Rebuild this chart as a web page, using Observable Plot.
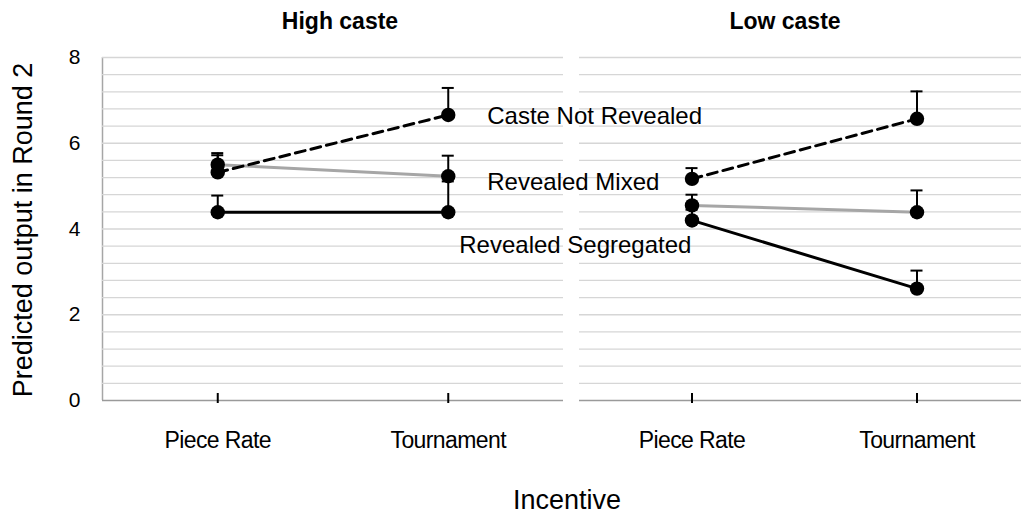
<!DOCTYPE html>
<html><head><meta charset="utf-8">
<script src="https://cdn.jsdelivr.net/npm/d3@7"></script>
<script src="https://cdn.jsdelivr.net/npm/@observablehq/plot@0.6"></script>
<style>
html,body{margin:0;padding:0;background:#fff;}
#wrap{position:relative;width:1021px;height:519px;overflow:hidden;font-family:"Liberation Sans",Arial,sans-serif;color:#000;background:#fff;}
.abs{position:absolute;white-space:nowrap;line-height:1;}
#left{left:0;top:0;width:563px;z-index:2;}
#right{left:579px;top:0;width:450px;z-index:1;}
.title{font-weight:bold;font-size:23px;transform:translate(-50%,-50%);}
#ytitle{left:23px;top:230px;font-size:27px;transform:translate(-50%,-50%) rotate(-90deg);}
#xtitle{left:567px;top:500px;font-size:27px;transform:translate(-50%,-50%);}
#wrap svg{max-width:none !important;}
</style>
</head><body>
<div id="wrap">
  <div id="right" class="abs"></div>
  <div id="left" class="abs"></div>
  <div class="abs title" style="left:340px;top:21px;">High caste</div>
  <div class="abs title" style="left:785px;top:21px;">Low caste</div>
  <div id="ytitle" class="abs">Predicted output in Round 2</div>
  <div id="xtitle" class="abs">Incentive</div>
</div>
<script>
// ---- data ----
const categories = ["Piece Rate", "Tournament"];
const panels = ["High caste", "Low caste"];
const seriesNames = ["Caste Not Revealed", "Revealed Mixed", "Revealed Segregated"];

const highNotRevealed = [5.32, 6.66];
const highNotRevealedUpper = [5.77, 7.29];
const highMixed = [5.50, 5.23];
const highMixedUpper = [5.72, 5.71];
const highSegregated = [4.39, 4.39];
const highSegregatedUpper = [4.78, 5.11];

const lowNotRevealed = [5.17, 6.57];
const lowNotRevealedUpper = [5.42, 7.21];
const lowMixed = [4.55, 4.39];
const lowMixedUpper = [4.80, 4.90];
const lowSegregated = [4.20, 2.61];
const lowSegregatedUpper = [4.45, 3.03];

const yTicks = [0, 2, 4, 6, 8];
const gridStep = 0.4;

// ---- build table ----
const values = {
  "High caste": [[highNotRevealed, highNotRevealedUpper], [highMixed, highMixedUpper], [highSegregated, highSegregatedUpper]],
  "Low caste": [[lowNotRevealed, lowNotRevealedUpper], [lowMixed, lowMixedUpper], [lowSegregated, lowSegregatedUpper]]
};
const rows = [];
panels.forEach(p => seriesNames.forEach((s, si) => categories.forEach((c, ci) => {
  rows.push({panel: p, series: s, xi: ci, value: values[p][si][0][ci], upper: values[p][si][1][ci]});
})));
const gridLines = d3.range(gridStep, 8 + 1e-9, gridStep);

const seriesStyle = {
  "Caste Not Revealed": {stroke: "#000", strokeDasharray: "10,6"},
  "Revealed Mixed": {stroke: "#a6a6a6"},
  "Revealed Segregated": {stroke: "#000"}
};

function panelMarks(panel) {
  const data = rows.filter(d => d.panel === panel);
  const marks = [
    Plot.ruleY(gridLines, {stroke: "#d6d6d6", strokeWidth: 1.3}),
    Plot.ruleY([0], {stroke: "#9a9a9a", strokeWidth: 1.6}),
    Plot.ruleX([0, 1], {y1: 0, y2: 0, insetTop: -7, insetBottom: -3, stroke: "#000", strokeWidth: 2}),
    Plot.ruleX(data, {x: "xi", y1: "value", y2: "upper", stroke: "#000", strokeWidth: 2}),
    Plot.ruleY(data, {y: "upper", x1: "xi", x2: "xi", insetLeft: -6, insetRight: -6, stroke: "#000", strokeWidth: 2})
  ];
  ["Revealed Mixed", "Revealed Segregated", "Caste Not Revealed"].forEach(s => {
    marks.push(Plot.line(data.filter(d => d.series === s), {x: "xi", y: "value", strokeWidth: 3, ...seriesStyle[s]}));
  });
  marks.push(Plot.dot(data, {x: "xi", y: "value", r: 7.2, fill: "#000"}));
  return marks;
}

const baseStyle = {fontFamily: "Liberation Sans, Arial, sans-serif", fontSize: "21px", background: "transparent", overflow: "visible", color: "#000", maxWidth: "none"};

const leftPlot = Plot.plot({
  width: 563, height: 460,
  marginLeft: 102, marginRight: 0, marginTop: 57, marginBottom: 60,
  style: baseStyle,
  x: {domain: [-0.5, 1.5], ticks: [0, 1], tickFormat: i => categories[i], tickSize: 0, tickPadding: 31, label: null},
  y: {domain: [0, 8], ticks: yTicks, tickSize: 0, tickPadding: 22, label: null},
  marks: [
    Plot.ruleX([-0.5], {y1: 0, y2: 8, stroke: "#a6a6a6", strokeWidth: 1.5}),
    ...panelMarks("High caste"),
    Plot.text([seriesNames[0]], {x: 1, y: 6.62, text: d => d, textAnchor: "start", dx: 39, fontSize: 24, fill: "#000"}),
    Plot.text([seriesNames[1]], {x: 1, y: 5.08, text: d => d, textAnchor: "start", dx: 39, fontSize: 24, fill: "#000"}),
    Plot.text([seriesNames[2]], {x: 1, y: 3.62, text: d => d, textAnchor: "start", dx: 11, fontSize: 24, fill: "#000"})
  ]
});

const rightPlot = Plot.plot({
  width: 450, height: 460,
  marginLeft: 0, marginRight: 0, marginTop: 57, marginBottom: 60,
  style: baseStyle,
  x: {domain: [-0.5, 1.5], ticks: [0, 1], tickFormat: i => categories[i], tickSize: 0, tickPadding: 31, label: null},
  y: {domain: [0, 8], axis: null},
  marks: panelMarks("Low caste")
});

// category tick labels: slightly larger and tighter, as in the original
[leftPlot, rightPlot].forEach(svg => {
  svg.querySelectorAll("text").forEach(t => {
    if (categories.includes(t.textContent)) {
      t.style.fontSize = "23px";
      t.style.letterSpacing = "-0.6px";
    }
  });
});

document.getElementById("left").appendChild(leftPlot);
document.getElementById("right").appendChild(rightPlot);
</script>
</body></html>
